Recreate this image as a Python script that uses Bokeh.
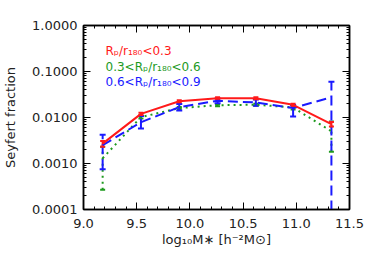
from bokeh.plotting import figure
from bokeh.models import (ColumnDataSource, Whisker, TeeHead, FixedTicker,
                          CustomJSTickFormatter, PrintfTickFormatter, LinearAxis, LogAxis, Label, Range1d)
from bokeh.embed import file_html
from bokeh.resources import INLINE

# ---- data ----
mass = [9.18, 9.54, 9.90, 10.26, 10.62, 10.97, 11.33]

red = [0.0027, 0.0120, 0.0226, 0.0263, 0.0263, 0.0189, 0.0072]
red_lo = [0.0023, 0.0113, 0.0214, 0.0250, 0.0250, 0.0178, 0.0064]
red_hi = [0.0031, 0.0127, 0.0238, 0.0276, 0.0276, 0.0200, 0.0080]

green = [0.0013, 0.0102, 0.0160, 0.0185, 0.0190, 0.0165, 0.0050]
green_lo = [0.00027, 0.0095, 0.0150, 0.0175, 0.0180, 0.0150, 0.0018]
green_hi = [0.0023, 0.0109, 0.0170, 0.0195, 0.0200, 0.0180, 0.0082]

blue = [0.0025, 0.0079, 0.0168, 0.0232, 0.0212, 0.0160, 0.0277]
blue_lo = [0.00075, 0.0058, 0.0142, 0.0205, 0.0180, 0.0105, 0.00001]
blue_hi = [0.0042, 0.0108, 0.0197, 0.0260, 0.0245, 0.0188, 0.0600]

x_ticks = [9.0, 9.5, 10.0, 10.5, 11.0, 11.5]
y_ticks = [0.0001, 0.001, 0.01, 0.1, 1.0]
legend_texts = ["R\u209a/r\u2081\u2088\u2080<0.3",
                "0.3<R\u209a/r\u2081\u2088\u2080<0.6",
                "0.6<R\u209a/r\u2081\u2088\u2080<0.9"]

RED = "#ff1a1a"
GREEN = "#1e9a1e"
BLUE = "#1a1aff"
FONT = "DejaVu Sans"
TXT = "#222222"

p = figure(width=374, height=262, y_axis_type="log",
           x_range=Range1d(9.0, 11.5), y_range=Range1d(0.0001, 1.0),
           output_backend="svg", toolbar_location=None,
           min_border_left=83, min_border_right=25, min_border_top=25, min_border_bottom=53)
p.xgrid.visible = False
p.ygrid.visible = False
p.outline_line_color = "black"
p.outline_line_width = 1.5

x_minor = [round(9.0 + 0.1 * i, 2) for i in range(26)]
y_minor = [m * d for d in [0.0001, 0.001, 0.01, 0.1] for m in range(1, 10)]
xt = FixedTicker(ticks=x_ticks, minor_ticks=x_minor)
yt = FixedTicker(ticks=y_ticks, minor_ticks=y_minor)

def style(ax, labels=True):
    ax.axis_line_color = "black"
    ax.axis_line_width = 1.5
    ax.major_tick_in = 7
    ax.major_tick_out = 0
    ax.minor_tick_in = 3
    ax.minor_tick_out = 0
    ax.major_tick_line_color = "black"
    ax.minor_tick_line_color = "black"
    ax.major_label_text_font = FONT
    ax.major_label_text_font_size = "13px"
    ax.major_label_text_color = TXT
    ax.axis_label_text_font = FONT
    ax.axis_label_text_font_size = "13px"
    ax.axis_label_text_font_style = "normal"
    ax.axis_label_text_color = TXT
    if not labels:
        ax.major_label_standoff = 0
        ax.formatter = CustomJSTickFormatter(code="return '';")

p.xaxis.ticker = xt
p.yaxis.ticker = yt
p.xaxis.formatter = PrintfTickFormatter(format="%.1f")
p.yaxis.formatter = PrintfTickFormatter(format="%.4f")
style(p.xaxis[0])
style(p.yaxis[0])
p.xaxis.major_label_standoff = 9
p.yaxis.major_label_standoff = 6
p.xaxis.axis_label = "log\u2081\u2080M\u2217 [h\u207b\u00b2M\u2299]"
p.yaxis.axis_label = "Seyfert fraction"
p.xaxis.axis_label_standoff = 1
p.yaxis.axis_label_standoff = 11

top = LinearAxis(ticker=xt)
style(top, labels=False)
p.add_layout(top, "above")
right = LogAxis(ticker=yt)
style(right, labels=False)
p.add_layout(right, "right")

src = ColumnDataSource(dict(x=mass, red=red, red_lo=red_lo, red_hi=red_hi,
                            green=green, green_lo=green_lo, green_hi=green_hi,
                            blue=blue, blue_lo=blue_lo, blue_hi=blue_hi))

def whisk(lo, hi, color, dash, head):
    w = Whisker(base="x", lower=lo, upper=hi, source=src, dimension="height",
                line_color=color, line_width=2, line_dash=dash,
                upper_head=TeeHead(size=head, line_color=color, line_width=2),
                lower_head=TeeHead(size=head, line_color=color, line_width=2))
    p.add_layout(w)

whisk("green_lo", "green_hi", GREEN, "2 4", 5)
whisk("blue_lo", "blue_hi", BLUE, "10 5", 6)
whisk("red_lo", "red_hi", RED, "solid", 5)

p.line("x", "green", source=src, color=GREEN, line_width=2, line_dash="2 4")
p.line("x", "blue", source=src, color=BLUE, line_width=2, line_dash="10 5")
p.line("x", "red", source=src, color=RED, line_width=2)

for txt, yv, col in zip(legend_texts, [0.286, 0.124, 0.058], [RED, GREEN, BLUE]):
    p.add_layout(Label(x=9.207, y=yv, text=txt, text_color=col, text_font=FONT,
                       text_font_size="12px", text_baseline="middle"))

open("out.html", "w").write(file_html(p, INLINE))
